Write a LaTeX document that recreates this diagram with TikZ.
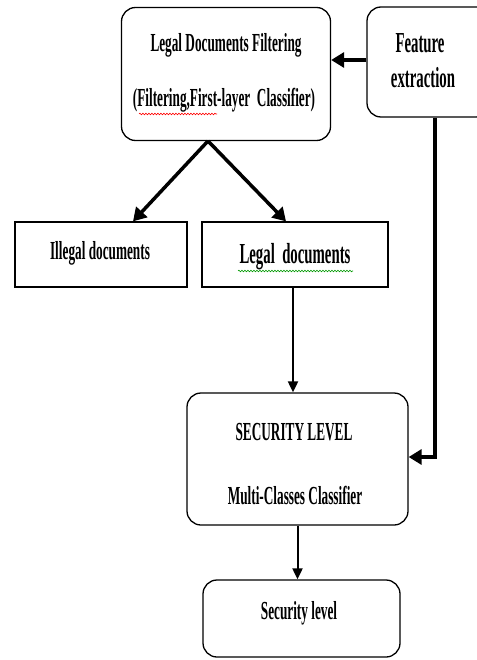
\documentclass[tikz,border=0pt]{standalone}
\usepackage{fontspec}
\setmainfont{Liberation Serif}
\newfontfamily\cond[FakeStretch=0.51]{Liberation Serif}
\usetikzlibrary{arrows.meta,decorations.pathmorphing,calc}
\begin{document}
\begin{tikzpicture}[x=1pt,y=-1pt,
  rbox/.style={draw, line width=1.3pt, rounded corners=14pt, inner sep=0pt},
  sbox/.style={draw, line width=1.3pt, inner sep=0pt},
  lbl/.style={font=\cond\bfseries\fontsize{26}{28}\selectfont, inner sep=0pt},
  biglbl/.style={font=\cond\bfseries\fontsize{29}{31}\selectfont, inner sep=0pt},
  bigarrow/.style={line width=3.5pt, -{Triangle[length=13pt,width=15pt]}},
  smallarrow/.style={line width=2pt, -{Triangle[length=11pt,width=10pt]}},
  squig/.style={line width=0.6pt, decorate, decoration={snake, amplitude=0.8pt, segment length=3pt}}]
\useasboundingbox (0,0) rectangle (476,660);
% boxes
\node[rbox, minimum width=209pt, minimum height=133pt] (top) at (226,74) {};
\node[rbox, minimum width=123pt, minimum height=110pt] (feat) at (428.5,62) {};
\node[sbox, minimum width=172pt, minimum height=65pt] (illegal) at (101,254.5) {};
\node[sbox, minimum width=186pt, minimum height=65pt] (legal) at (295,254.5) {};
\node[rbox, minimum width=221pt, minimum height=132pt] (sec) at (297.5,459) {};
\node[rbox, minimum width=197pt, minimum height=77pt] (lvl) at (301.5,618.5) {};
% labels
\node[lbl] (t1) at (226,45) {Legal Documents Filtering};
\node[lbl] (t2) at (224,100) {(Filtering,First-layer\ \ Classifier)};
\node[biglbl] (f1) at (420,43) {Feature};
\node[biglbl] (f2) at (423,78) {extraction};
\node[lbl] (il) at (100,253) {Illegal documents};
\node[biglbl] (lg) at (295,257) {Legal\ \ documents};
\node[lbl] (s1) at (294,432) {SECURITY LEVEL};
\node[lbl] (s2) at (295,495) {Multi-Classes Classifier};
\node[lbl] (l1) at (299,613) {Security level};
% spell-check squiggles
\draw[squig, red] (139,114) -- (217,114);
\draw[squig, green!60!black] (238,271) -- (353,271);
% connectors
\coordinate (apex) at (208,141);
\coordinate (fb) at (435,457);
\draw[bigarrow] (feat.west |- 0,60) -- (top.east |- 0,60);
\draw[bigarrow] (apex) -- ($(illegal.north)+(32,0)$);
\draw[bigarrow] (apex) -- ($(legal.north)+(-9,0)$);
\draw[bigarrow] (fb |- feat.south) -- (fb) -- (sec.east |- fb);
\draw[smallarrow] ($(legal.south)+(-2,0)$) -- ($(sec.north)+(-4.5,0)$);
\draw[smallarrow] (sec.south) -- (sec.south |- lvl.north);
\end{tikzpicture}
\end{document}
